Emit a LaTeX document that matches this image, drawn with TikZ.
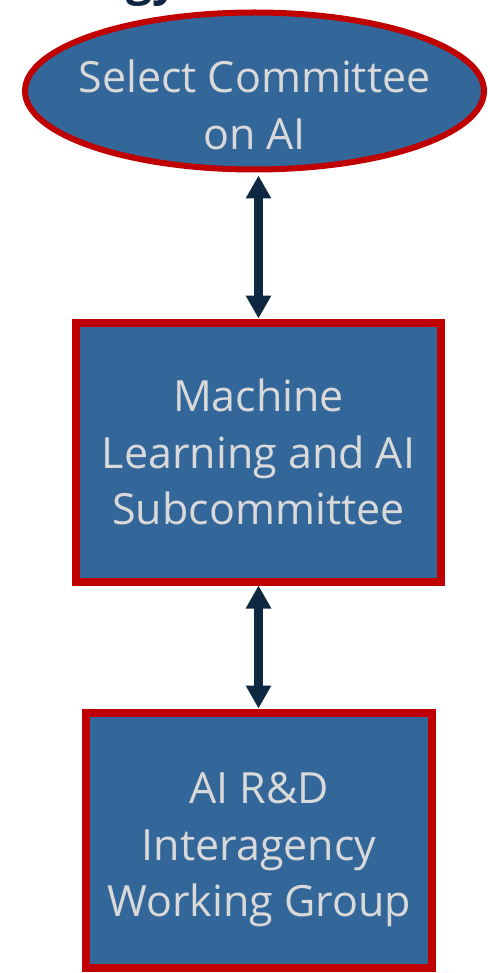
\documentclass[tikz,border=0pt]{standalone}
\usepackage{fontspec}
\setmainfont{Open Sans}
\usetikzlibrary{shapes.geometric,arrows.meta,positioning}

\definecolor{unitblue}{HTML}{336699}
\definecolor{unitred}{HTML}{C00000}
\definecolor{unittext}{HTML}{D9D9D9}
\definecolor{linknavy}{HTML}{0E2841}

\begin{document}
\begin{tikzpicture}[%
    unitbox/.style={
        draw=unitred,
        fill=unitblue,
        line width=8pt,
        inner sep=0pt
        },
    unitoval/.style={
        unitbox,
        ellipse,
        line width=6pt
        },
    unitlabel/.style={
        text=unittext,
        align=center,
        inner sep=0pt,
        font=\fontsize{43}{56.5}\selectfont
        },
    titletext/.style={
        text=linknavy,
        inner sep=0pt,
        font=\fontsize{46}{56}\selectfont\bfseries
        },
    link/.style={%
        {Triangle[width=24pt,length=23pt]}-{Triangle[width=24pt,length=23pt]},
        draw=linknavy,
        line width=8.5pt}
]
\useasboundingbox (0pt,0pt) rectangle (487pt,-973pt);
\clip (0pt,0pt) rectangle (487pt,-973pt);

\node[titletext, anchor=base west] (title) at (126pt,4pt) {gy};

\node[unitoval, minimum width=459pt, minimum height=157pt] (committee) at (254.5pt,-91pt) {};
\node[unitbox, minimum width=365pt, minimum height=259pt,
      below=146pt of committee, xshift=4pt] (subcommittee) {};
\node[unitbox, minimum width=346pt, minimum height=255pt,
      below=123pt of subcommittee, xshift=0.5pt] (rdgroup) {};

\node[unitlabel] (committeetext) at ([yshift=-14pt]committee.center) {Select Committee\\on AI};
\node[unitlabel] (subcommitteetext) at (subcommittee.center) {Machine\\Learning and AI\\Subcommittee};
\node[unitlabel] (rdgrouptext) at ([yshift=-10pt]rdgroup.center) {AI R\&D\\Interagency\\Working Group};

\draw[link] ([yshift=-3pt]committee.south -| subcommittee.north) -- (subcommittee.north);
\draw[link] (subcommittee.south) -- (subcommittee.south |- rdgroup.north);
\end{tikzpicture}
\end{document}
